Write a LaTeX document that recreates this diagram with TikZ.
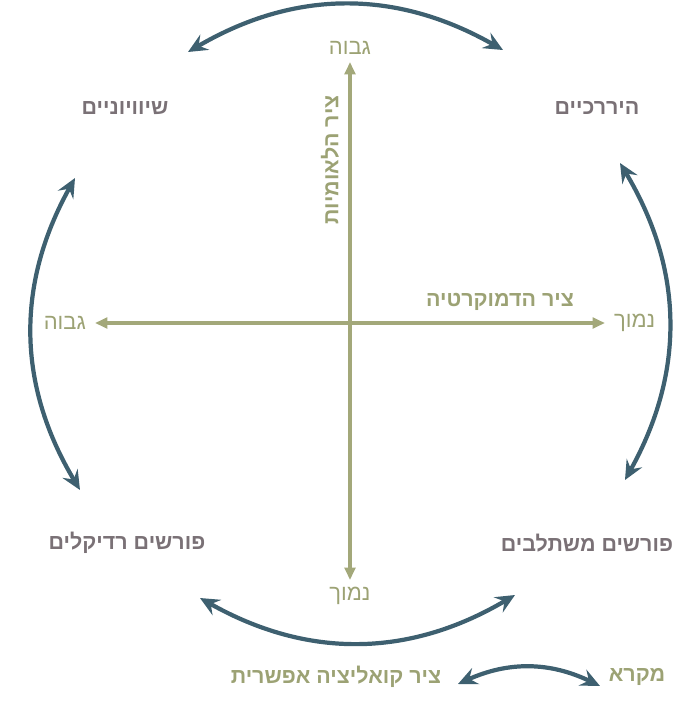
\documentclass[tikz,border=0pt]{standalone}
\usepackage{fontspec}
\setmainfont{Liberation Sans}
\newfontfamily\hebfont[Script=Hebrew]{Liberation Sans}
\TeXXeTstate=1
\usepackage{tikz}
\usetikzlibrary{arrows.meta, positioning}
\definecolor{cTeal}{RGB}{62,96,112}
\definecolor{cOlive}{RGB}{163,168,122}
\definecolor{cOliveTxt}{RGB}{156,162,116}
\definecolor{cGray}{RGB}{122,113,118}
\newcommand{\heb}[1]{\hebfont\beginR #1\endR}
\tikzset{
	axisline/.style ={{Triangle[length=7pt, width=6pt]}-{Triangle[length=7pt, width=6pt]}, line width=2pt, draw=cOlive},
	swing/.style    ={{Stealth[length=11pt, width=10pt, inset=4pt]}-{Stealth[length=11pt, width=10pt, inset=4pt]}, line width=2.4pt, draw=cTeal},
	camp/.style     ={text=cGray, font=\bfseries\fontsize{12.2}{14}\selectfont, inner sep=1pt},
	axistitle/.style={text=cOliveTxt, font=\bfseries\fontsize{12.2}{14}\selectfont, inner sep=1pt},
	endlbl/.style   ={text=cOliveTxt, font=\fontsize{12.5}{14}\selectfont, inner sep=1pt},
}
\begin{document}
\begin{tikzpicture}[x=0.02cm, y=-0.02cm]
	\useasboundingbox (0,0) rectangle (683,708);
	% axes
	\coordinate (vtop) at (350,62);
	\coordinate (vbot) at (350,580);
	\coordinate (hleft) at (95,323);
	\coordinate (hright) at (605,323);
	\draw[axisline] (vbot) -- (vtop);
	\draw[axisline] (hleft) -- (hright);
	\node[endlbl, above=3pt of vtop] (vhigh) {\heb{גבוה}};
	\node[endlbl, below=3pt of vbot] (vlow) {\heb{נמוך}};
	\node[endlbl, left=4pt of hleft] (hhigh) {\heb{גבוה}};
	\node[endlbl, right=4pt of hright] (hlow) {\heb{נמוך}};
	\node[axistitle] (demo) at (500,302) {\heb{ציר הדמוקרטיה}};
	\node[axistitle, rotate=90] (natl) at (330,160) {\heb{ציר הלאומיות}};
	% corners
	\node[camp] (egal) at (125,108) {\heb{שיוויוניים}};
	\node[camp] (hier) at (597,108) {\heb{היררכיים}};
	\node[camp] (radic) at (127,543) {\heb{פורשים רדיקלים}};
	\node[camp] (integ) at (587,543) {\heb{פורשים משתלבים}};
	% coalition arcs
	\coordinate (tarcL) at (188,52);
	\coordinate (tarcR) at (503,50);
	\coordinate (rarcT) at (620,163);
	\coordinate (rarcB) at (625,480);
	\coordinate (barcR) at (515,595);
	\coordinate (barcL) at (200,598);
	\coordinate (larcB) at (80,490);
	\coordinate (larcT) at (75,178);
	\draw[swing] (tarcL) to[bend left=30] (tarcR);
	\draw[swing] (rarcT) to[bend left=30] (rarcB);
	\draw[swing] (barcR) to[bend left=30] (barcL);
	\draw[swing] (larcB) to[bend left=30] (larcT);
	% legend
	\node[axistitle] (keyttl) at (637,677) {\heb{מקרא}};
	\node[axistitle] (keytxt) at (336,677) {\heb{ציר קואליציה אפשרית}};
	\coordinate (keyL) at (458,684);
	\coordinate (keyR) at (600,686);
	\draw[swing] (keyL) to[bend left=25] (keyR);
\end{tikzpicture}
\end{document}
